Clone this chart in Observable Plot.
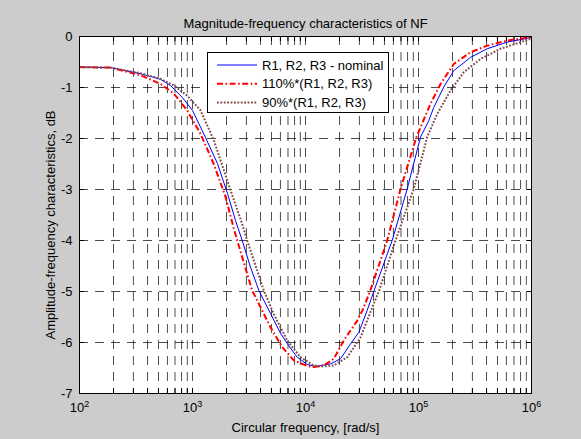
<!DOCTYPE html>
<html><head><meta charset="utf-8">
<script src="https://cdn.jsdelivr.net/npm/d3@7"></script>
<script src="https://cdn.jsdelivr.net/npm/@observablehq/plot@0.6"></script>
<style>
html,body{margin:0;padding:0;background:#cccccc;}
#chart svg{display:block;}
</style></head><body><div id="chart"></div>
<script>
// ---- data ----
const freqNominal = [100, 188, 347, 521, 638, 817, 1000, 1303, 1663, 2042, 2404, 2754, 3258, 3864, 4898, 6012, 6887, 8453, 10351, 12246, 16634, 20417, 25003, 29648, 35156, 40179, 58479, 79433, 104232, 123310, 136458, 167494, 205116, 288403, 405509, 609537, 1000000];
const dbNominal = [-0.60, -0.61, -0.73, -0.84, -0.96, -1.20, -1.45, -1.98, -2.49, -3.08, -3.61, -4.00, -4.52, -4.98, -5.43, -5.82, -6.02, -6.29, -6.43, -6.47, -6.42, -6.32, -6.03, -5.80, -5.37, -5.00, -4.00, -2.99, -1.97, -1.65, -1.39, -0.99, -0.67, -0.41, -0.24, -0.11, -0.02];

const freq110 = [100, 188, 347, 521, 684, 897, 1178, 1542, 1959, 2317, 2489, 3373, 4898, 6223, 7870, 10351, 11830, 14521, 17783, 21827, 28708, 31915, 37239, 52845, 69343, 95940, 127644, 156675, 205116, 288403, 405509, 609537, 1000000];
const db110 = [-0.60, -0.61, -0.76, -0.93, -1.12, -1.45, -1.91, -2.50, -3.14, -3.76, -4.00, -4.98, -5.70, -6.09, -6.35, -6.46, -6.48, -6.45, -6.32, -5.96, -5.57, -5.37, -5.00, -4.00, -2.99, -1.97, -1.32, -0.93, -0.54, -0.31, -0.18, -0.08, -0.01];

const freq90 = [100, 188, 347, 521, 684, 897, 1178, 1542, 2028, 2317, 2661, 3048, 4276, 5236, 6887, 9036, 11830, 13583, 17783, 23388, 30690, 40179, 44566, 62517, 90782, 119399, 146218, 191867, 251768, 353997, 532108, 1000000];
const db90 = [-0.60, -0.61, -0.72, -0.83, -0.96, -1.16, -1.45, -2.03, -2.82, -3.20, -3.58, -4.00, -4.98, -5.44, -5.96, -6.29, -6.45, -6.47, -6.45, -6.29, -5.90, -5.24, -5.00, -4.00, -2.99, -1.97, -1.52, -1.06, -0.70, -0.44, -0.24, -0.04];

const seriesNames = ["R1, R2, R3 - nominal", "110%*(R1, R2, R3)", "90%*(R1, R2, R3)"];
const seriesColors = ["#0000ff", "#ff0000", "#7f4c4c"];
const seriesDash = [null, "6,2.5,1.6,2.5", "1.8,1.6"];
const seriesWidth = [1, 2, 2];

const xTickValues = [100, 1000, 10000, 100000, 1000000];
const xTickExponents = ["2", "3", "4", "5", "6"];
const yTickValues = [-7, -6, -5, -4, -3, -2, -1, 0];

const titleText = "Magnitude-frequency characteristics of NF";
const xLabelText = "Circular frequency, [rad/s]";
const yLabelText = "Amplitude-frequency characteristics, dB";

// ---- grid / tick positions (log decades with minor ticks) ----
const xMinor = [];
for (let k = 2; k <= 5; k++) for (let m = 1; m <= 9; m++) xMinor.push(m * Math.pow(10, k));
xMinor.push(1e6);
const xGridInner = xMinor.filter(d => d > 100 && d < 1e6);
const yGridInner = yTickValues.filter(d => d > -7 && d < 0);

const toRows = (f, v) => f.map((x, i) => ({f: x, db: v[i]}));
const seriesRows = [toRows(freqNominal, dbNominal), toRows(freq110, db110), toRows(freq90, db90)];

const gridStyle = {stroke: "black", strokeOpacity: 0.7, strokeWidth: 1, strokeDasharray: "9,7"};
const tickLen = 1.1; // factor on log axis

const plot = Plot.plot({
  width: 581, height: 439,
  marginTop: 36, marginBottom: 46, marginLeft: 79, marginRight: 50,
  style: {background: "#cccccc", fontFamily: "'Liberation Sans', Arial, sans-serif", fontSize: "13px", color: "black", overflow: "visible"},
  x: {type: "log", domain: [100, 1e6]},
  y: {domain: [-7, 0]},
  marks: [
    Plot.frame({fill: "white", stroke: null}),
    Plot.ruleX(xGridInner, gridStyle),
    Plot.ruleY(yGridInner, gridStyle),
    Plot.ruleX(xMinor, {y1: -7, y2: -6.9, stroke: "black"}),
    Plot.ruleX(xMinor, {y1: 0, y2: -0.1, stroke: "black"}),
    Plot.ruleY(yTickValues, {x1: 100, x2: 100 * tickLen, stroke: "black"}),
    Plot.ruleY(yTickValues, {x1: 1e6, x2: 1e6 / tickLen, stroke: "black"}),
    ...seriesRows.map((rows, i) => Plot.line(rows, {
      x: "f", y: "db", stroke: seriesColors[i], strokeWidth: seriesWidth[i],
      strokeDasharray: seriesDash[i] || undefined, strokeLinecap: "butt", strokeLinejoin: "miter", curve: "linear"
    })),
    Plot.frame({stroke: "black", strokeWidth: 1}),
    Plot.axisX(xTickValues, {tickSize: 0, tickPadding: 9, tickFormat: d => "10^" + xTickExponents[xTickValues.indexOf(d)], label: null}),
    Plot.axisY(yTickValues, {tickSize: 0, tickPadding: 7, tickFormat: d => String(d), label: null}),
    Plot.text([titleText], {text: d => d, frameAnchor: "top", dy: -9, lineAnchor: "bottom", fontSize: 13}),
    Plot.text([xLabelText], {text: d => d, frameAnchor: "bottom", dy: 38, lineAnchor: "bottom", fontSize: 13}),
    Plot.text([yLabelText], {text: d => d, frameAnchor: "left", rotate: -90, dx: -29, dy: 10, textAnchor: "middle", lineAnchor: "middle", fontSize: 13})
  ]
});

document.getElementById("chart").appendChild(plot);

// superscript exponents on x tick labels
const svg = d3.select(plot);
svg.selectAll('g[aria-label="x-axis tick label"] text').each(function () {
  const t = d3.select(this);
  const parts = t.text().split("^");
  t.text(null);
  t.append("tspan").text(parts[0]);
  t.append("tspan").attr("dy", "-0.55em").attr("font-size", "9px").text(parts[1]);
});

// legend box
const lg = svg.append("g").attr("font-size", 13).attr("text-anchor", "start");
lg.append("rect").attr("x", 207.5).attr("y", 52.5).attr("width", 181).attr("height", 60)
  .attr("fill", "white").attr("stroke", "black");
seriesNames.forEach((name, i) => {
  const yy = 65 + i * 18.7;
  lg.append("line").attr("x1", 217).attr("x2", 257).attr("y1", yy).attr("y2", yy)
    .attr("stroke", seriesColors[i]).attr("stroke-width", seriesWidth[i])
    .attr("stroke-dasharray", seriesDash[i]);
  lg.append("text").attr("x", 262).attr("y", yy).attr("dy", "0.35em").attr("text-anchor", "start").attr("fill", "black").text(name);
});
</script>
</body></html>
